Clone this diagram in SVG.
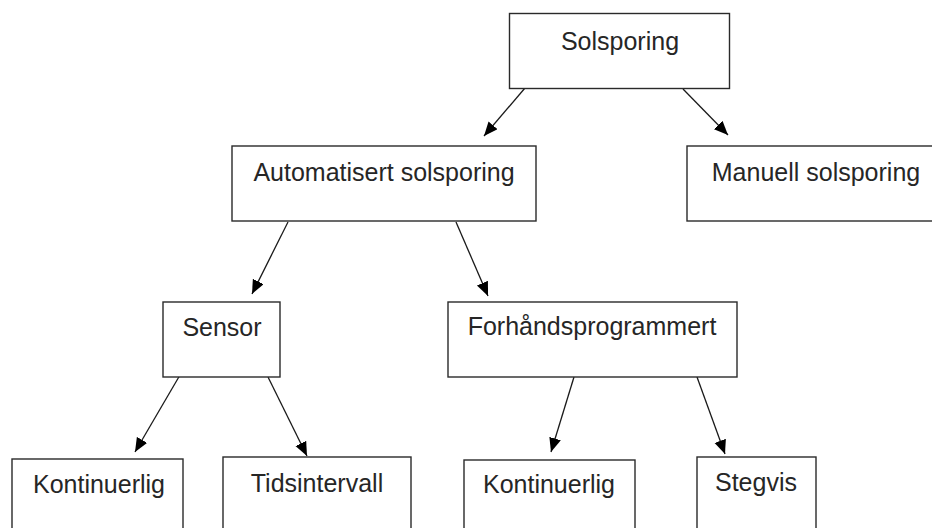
<svg xmlns="http://www.w3.org/2000/svg" width="932" height="528" viewBox="0 0 932 528">
<defs>
<style>
.box{fill:#fff;stroke:#2a2a2a;stroke-width:1.4}
.lbl{font-family:"Liberation Sans",Arial,sans-serif;font-size:25px;fill:#262626;text-anchor:middle}
.conn{stroke:#1a1a1a;stroke-width:1.3;fill:none;marker-end:url(#ah)}
</style>
<marker id="ah" markerUnits="userSpaceOnUse" markerWidth="15" markerHeight="13" refX="14" refY="6" orient="auto" viewBox="0 0 15 13">
<path d="M0,0 L14,6 L0,12 z" fill="#000"/>
</marker>
</defs>
<rect width="932" height="528" fill="#fff"/>
<g id="connectors">
<line class="conn" x1="525" y1="88" x2="484" y2="136"/>
<line class="conn" x1="683" y1="89" x2="728" y2="135"/>
<line class="conn" x1="288" y1="222" x2="252" y2="294"/>
<line class="conn" x1="456" y1="222" x2="488" y2="296"/>
<line class="conn" x1="180" y1="375" x2="135" y2="452"/>
<line class="conn" x1="268" y1="377" x2="307" y2="456"/>
<line class="conn" x1="574" y1="377" x2="551" y2="452"/>
<line class="conn" x1="697" y1="377" x2="725" y2="454"/>
</g>
<g id="solsporing"><rect class="box" x="509.5" y="13.5" width="220" height="75"/><text class="lbl" x="620" y="50">Solsporing</text></g>
<g id="automatisert"><rect class="box" x="232" y="146" width="304" height="75"/><text class="lbl" x="384" y="181">Automatisert solsporing</text></g>
<g id="manuell"><rect class="box" x="687" y="146" width="260" height="75"/><text class="lbl" x="816" y="181">Manuell solsporing</text></g>
<g id="sensor"><rect class="box" x="163" y="302" width="117" height="75"/><text class="lbl" x="222" y="336">Sensor</text></g>
<g id="forhandsprogrammert"><rect class="box" x="448" y="302" width="289" height="75"/><text class="lbl" x="592" y="335">Forhåndsprogrammert</text></g>
<g id="kontinuerlig1"><rect class="box" x="12" y="459" width="171" height="80"/><text class="lbl" x="99" y="493">Kontinuerlig</text></g>
<g id="tidsintervall"><rect class="box" x="223" y="457" width="188" height="80"/><text class="lbl" x="317" y="492">Tidsintervall</text></g>
<g id="kontinuerlig2"><rect class="box" x="464" y="460" width="171" height="80"/><text class="lbl" x="549" y="493">Kontinuerlig</text></g>
<g id="stegvis"><rect class="box" x="697" y="457" width="119" height="80"/><text class="lbl" x="756" y="491">Stegvis</text></g>
</svg>
